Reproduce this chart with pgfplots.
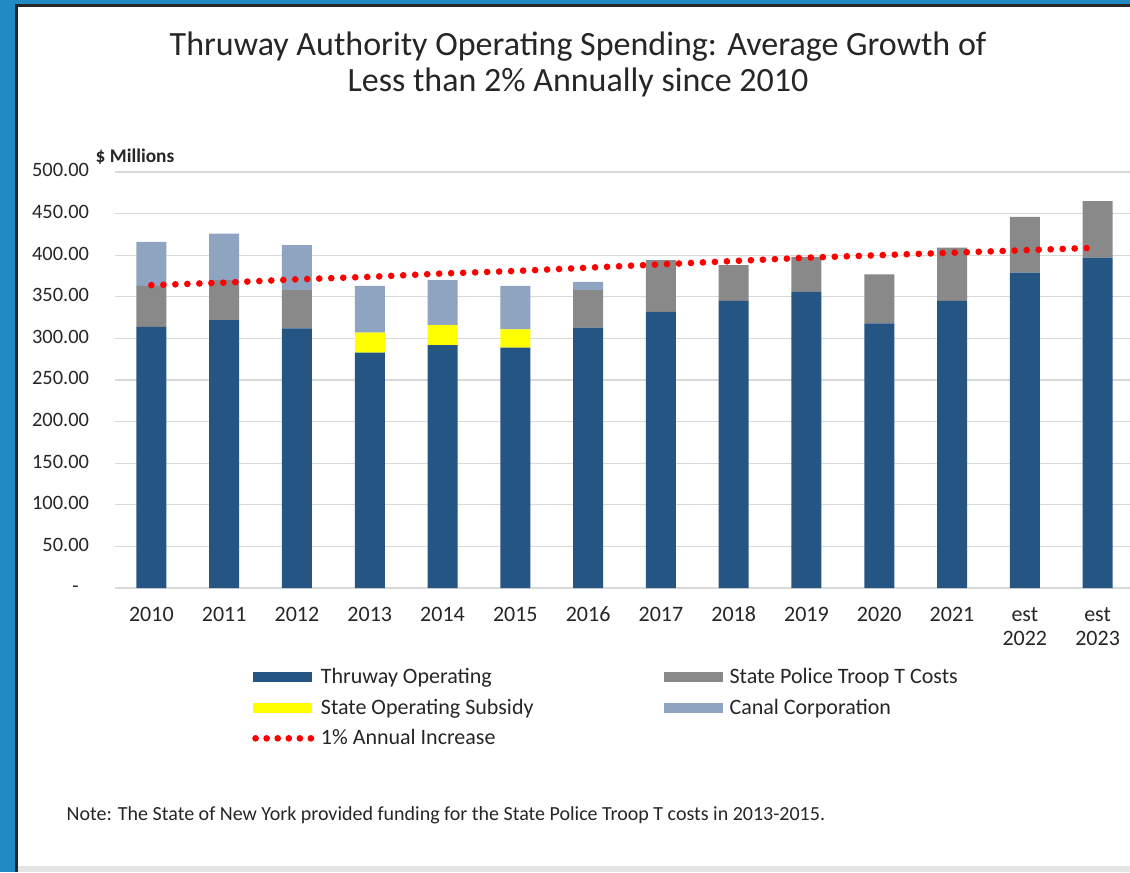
\documentclass[border=0pt]{standalone}
\usepackage{pgfplots}
\pgfplotsset{compat=1.18}
\usepackage{pgfplotstable}
\usepackage{fontspec}
\setmainfont{Carlito}

\definecolor{thruway}{HTML}{245583}
\definecolor{troop}{HTML}{898989}
\definecolor{subsidy}{HTML}{FFFF00}
\definecolor{canal}{HTML}{8EA4C0}
\definecolor{gridgray}{HTML}{D9D9D9}
\definecolor{slideblue}{HTML}{218AC2}
\definecolor{txt}{HTML}{262626}

% $ millions per year
\pgfplotstableread{
idx year op troop subsidy canal trend
0  2010 314 49 0  53 364
1  2011 322 48 0  56 367
2  2012 312 46 0  54 371
3  2013 283 0  24 56 374
4  2014 292 0  24 54 378
5  2015 289 0  22 52 381
6  2016 313 45 0  10 385
7  2017 332 62 0  0  389
8  2018 345 43 0  0  393
9  2019 356 42 0  0  397
10 2020 318 59 0  0  400
11 2021 345 64 0  0  403
12 2022 379 67 0  0  406
13 2023 397 68 0  0  409
}\spend

\begin{document}
\begin{tikzpicture}[x=0.75pt,y=0.75pt]
\useasboundingbox (0,0) rectangle (1130,872);
% slide frame
\fill[slideblue] (0,0) rectangle (1130,872);
\fill[white] (18,6) rectangle (1135,865);
\fill[black!10] (18,0) rectangle (1135,6);
\draw[black!85, line width=2.25pt] (16.5,0) -- (16.5,866.5) -- (1135,866.5);
\coordinate (O) at (115,284);

\begin{axis}[
  at={(O)}, anchor=south west, scale only axis,
  width=764.25pt, height=312pt,
  xmin=-0.5, xmax=13.5, ymin=0, ymax=500,
  ybar stacked, bar width=22.5pt,
  axis line style={draw=none},
  major tick length=0pt,
  ytick={0,50,...,500},
  yticklabels={-\hphantom{0},50.00,100.00,150.00,200.00,250.00,300.00,350.00,400.00,450.00,500.00},
  ymajorgrids, grid style={gridgray, line width=0.9pt},
  xtick={0,...,13},
  xticklabels={2010,2011,2012,2013,2014,2015,2016,2017,2018,2019,2020,2021,{est\\2022},{est\\2023}},
  tick label style={text=txt},
  typeset ticklabels with strut,
  xticklabel style={align=center, yshift=-9pt, font=\fontsize{16.5}{18}\selectfont},
  yticklabel style={xshift=-16pt, font=\fontsize{15.3}{18}\selectfont},
  legend columns=2,
  legend cell align=left,
  legend style={at={(0.1305,-0.18)}, anchor=north west, draw=none, fill=none,
    font=\fontsize{16.5}{18}\selectfont, text=txt, row sep=6pt,
    /tikz/every odd column/.append style={column sep=3pt},
    /tikz/every even column/.append style={column sep=96pt}},
  legend image code/.code={\fill[#1] (0pt,-3.75pt) rectangle (44pt,3.75pt);},
]
\addplot[fill=thruway, draw=none] table[x=idx, y=op]{\spend};
\addlegendentry{Thruway Operating}
\addplot[fill=troop, draw=none] table[x=idx, y=troop]{\spend};
\addlegendentry{State Police Troop T Costs}
\addplot[fill=subsidy, draw=none] table[x=idx, y=subsidy]{\spend};
\addlegendentry{State Operating Subsidy}
\addplot[fill=canal, draw=none] table[x=idx, y=canal]{\spend};
\addlegendentry{Canal Corporation}
\addlegendimage{legend image code/.code={\draw[red, line width=5pt, line cap=round, dash pattern=on 0pt off 8.3pt] (1.9pt,0pt) -- (43.4pt,0pt);}}
\addlegendentry{1\% Annual Increase}
\end{axis}

\begin{axis}[
  at={(O)}, anchor=south west, scale only axis,
  width=764.25pt, height=312pt,
  xmin=-0.5, xmax=13.5, ymin=0, ymax=500,
  hide axis,
]
\addplot[red, line width=5pt, line cap=round, dash pattern=on 0pt off 9pt] table[x=idx, y=trend]{\spend};
\end{axis}

\node[align=center, font=\fontsize{25.5}{27}\selectfont, text=txt] at (578,808)
  {Thruway Authority Operating Spending: Average Growth of\\Less than 2\% Annually since 2010};
\node[font=\bfseries\fontsize{14.5}{16}\selectfont, text=txt] at (135,715) {\$ Millions};
\node[anchor=west, font=\fontsize{15}{17}\selectfont, text=txt] at (62,57)
  {Note: The State of New York provided funding for the State Police Troop T costs in 2013-2015.};
\end{tikzpicture}
\end{document}
